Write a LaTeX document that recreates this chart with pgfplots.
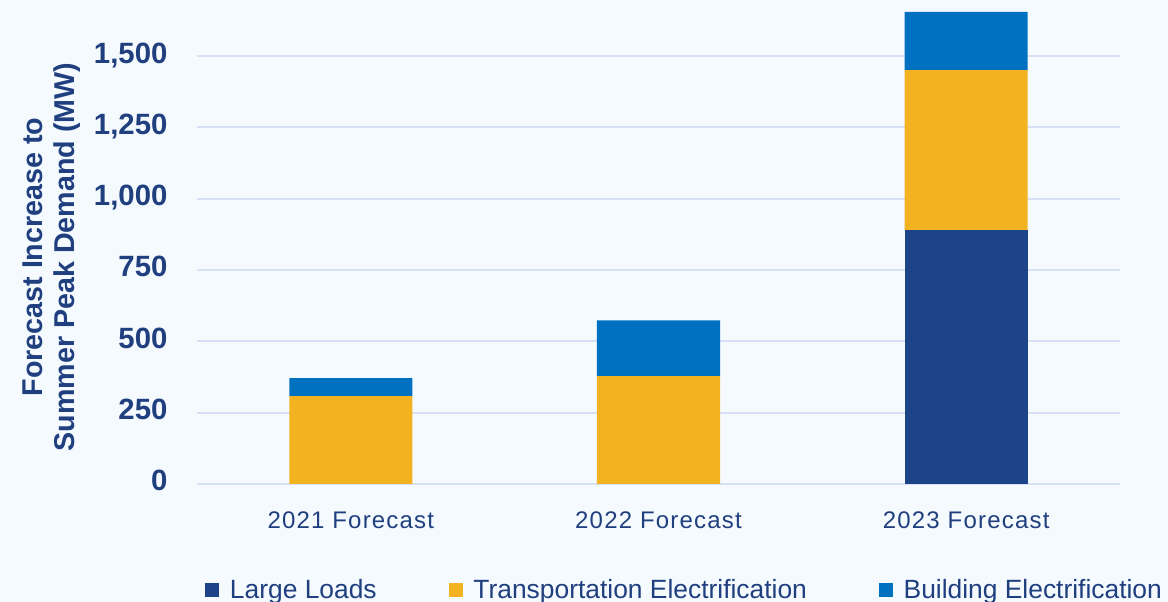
\documentclass[border=0pt]{standalone}
\usepackage{fontspec}
\setmainfont{Liberation Sans}
\newfontfamily\catfont[LetterSpace=5]{Liberation Sans}
\usepackage{pgfplots}
\pgfplotsset{compat=1.18}
\definecolor{bgc}{HTML}{F5FAFF}
\definecolor{gridc}{HTML}{D6E1F5}
\definecolor{navy}{HTML}{1F3F7F}
\definecolor{largec}{HTML}{1D4389}
\definecolor{transc}{HTML}{F3B21F}
\definecolor{buildc}{HTML}{0070C0}

\begin{document}
\begin{tikzpicture}
\fill[bgc] (-147.75pt,-88.5pt) rectangle (728.25pt,363pt);
\useasboundingbox (-147.75pt,-88.5pt) rectangle (728.25pt,363pt);
\begin{axis}[
    at={(0pt,0pt)}, anchor=south west,
    scale only axis, width=692.25pt, height=363pt,
    ybar stacked, bar width=0.4,
    xmin=-0.5, xmax=2.5, ymin=0, ymax=1697,
    xtick={0,1,2},
    xticklabels={2021 Forecast,2022 Forecast,2023 Forecast},
    ytick={0,250,500,750,1000,1250,1500},
    /pgf/number format/.cd, 1000 sep={,}, assume math mode=true, /pgfplots/.cd,
    axis line style={draw=none}, major tick length=0pt,
    ymajorgrids, grid style={gridc, line width=1.5pt},
    yticklabel style={font=\fontsize{22}{24}\selectfont\bfseries, text=navy,
        anchor=mid east, inner sep=0pt, xshift=-22pt, yshift=-2.5pt},
    xticklabel style={font=\catfont\fontsize{18}{20}\selectfont, text=navy,
        anchor=base, inner sep=0pt, yshift=-33.2pt},
    ylabel={Forecast Increase to\\Summer Peak Demand (MW)},
    ylabel style={at={(rel axis cs:-0.157,0.469)}, anchor=center, align=center,
        font=\fontsize{21.5}{24}\selectfont\bfseries, text=navy},
    legend columns=3,
    legend style={at={(0.0087,-0.219)}, anchor=west, draw=none, fill=none,
        inner sep=0pt, font=\fontsize{19.8}{22}\selectfont, text=navy,
        /tikz/every odd column/.append style={column sep=6pt},
        /tikz/every even column/.append style={column sep=52pt}},
    legend image code/.code={\fill[#1] (0pt,-5.25pt) rectangle (10.5pt,5.25pt);},
    clip=false,
]
\addplot[fill=largec, draw=none] coordinates {(0,0) (1,0) (2,890)};
\addplot[fill=transc, draw=none] coordinates {(0,308) (1,378) (2,561)};
\addplot[fill=buildc, draw=none] coordinates {(0,63) (1,196) (2,204)};
\legend{Large Loads,Transportation Electrification,Building Electrification}
\end{axis}
\end{tikzpicture}
\end{document}
